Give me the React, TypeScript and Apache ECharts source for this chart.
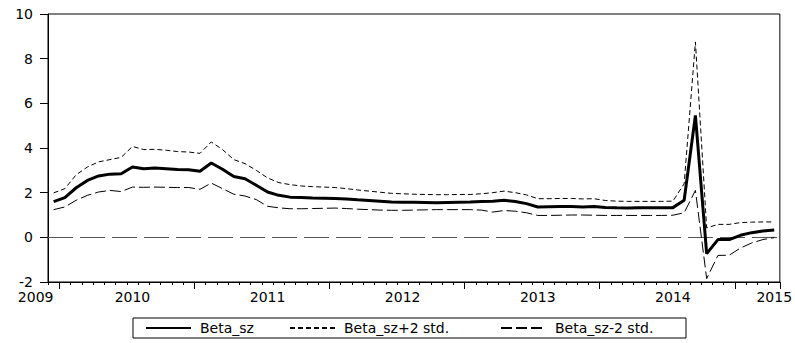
import React, { useEffect, useRef } from "react";
import * as echarts from "echarts";

// Monthly observations, Dec 2009 .. Apr 2015
const months: string[] = [
  "2009-12",
  "2010-01", "2010-02", "2010-03", "2010-04", "2010-05", "2010-06", "2010-07", "2010-08", "2010-09", "2010-10", "2010-11", "2010-12",
  "2011-01", "2011-02", "2011-03", "2011-04", "2011-05", "2011-06", "2011-07", "2011-08", "2011-09", "2011-10", "2011-11", "2011-12",
  "2012-01", "2012-02", "2012-03", "2012-04", "2012-05", "2012-06", "2012-07", "2012-08", "2012-09", "2012-10", "2012-11", "2012-12",
  "2013-01", "2013-02", "2013-03", "2013-04", "2013-05", "2013-06", "2013-07", "2013-08", "2013-09", "2013-10", "2013-11", "2013-12",
  "2014-01", "2014-02", "2014-03", "2014-04", "2014-05", "2014-06", "2014-07", "2014-08", "2014-09", "2014-10", "2014-11", "2014-12",
  "2015-01", "2015-02", "2015-03", "2015-04",
];

const betaSz: number[] = [
  1.60, 1.78, 2.22, 2.55, 2.75, 2.83, 2.85, 3.15, 3.07, 3.10, 3.07, 3.04, 3.03, 2.96, 3.33, 3.05, 2.72, 2.62, 2.33, 2.03,
  1.88, 1.80, 1.78, 1.76, 1.75, 1.74, 1.72, 1.68, 1.65, 1.62, 1.58, 1.57, 1.57, 1.56, 1.55,
  1.56, 1.57, 1.58, 1.60, 1.62, 1.66, 1.60, 1.51, 1.36, 1.37, 1.38, 1.38, 1.36, 1.38, 1.34,
  1.32, 1.31, 1.32, 1.32, 1.33, 1.33, 1.66, 5.46, -0.73, -0.10, -0.10, 0.09, 0.21, 0.28, 0.33,
];

const betaSzPlus2: number[] = [
  1.99, 2.18, 2.80, 3.15, 3.38, 3.48, 3.58, 4.07, 3.93, 3.94, 3.90, 3.84, 3.82, 3.76, 4.27, 3.93, 3.48, 3.30, 3.00, 2.66,
  2.45, 2.36, 2.30, 2.27, 2.25, 2.23, 2.18, 2.12, 2.07, 2.02, 1.97, 1.95, 1.93, 1.92, 1.91,
  1.91, 1.92, 1.92, 1.95, 2.00, 2.07, 2.00, 1.90, 1.73, 1.73, 1.74, 1.74, 1.72, 1.73, 1.65,
  1.62, 1.61, 1.61, 1.61, 1.61, 1.62, 2.40, 8.75, 0.42, 0.58, 0.58, 0.66, 0.68, 0.69, 0.69,
];

const betaSzMinus2: number[] = [
  1.24, 1.36, 1.66, 1.88, 2.03, 2.10, 2.05, 2.25, 2.24, 2.25, 2.24, 2.23, 2.23, 2.15, 2.43, 2.18, 1.93, 1.85, 1.69, 1.39,
  1.32, 1.28, 1.28, 1.29, 1.30, 1.31, 1.29, 1.26, 1.24, 1.22, 1.21, 1.21, 1.22, 1.23, 1.24,
  1.24, 1.24, 1.24, 1.22, 1.13, 1.20, 1.17, 1.10, 0.98, 0.98, 0.99, 1.00, 1.00, 0.99, 0.98,
  0.98, 0.98, 0.98, 0.98, 0.98, 0.99, 1.10, 2.10, -1.85, -0.81, -0.80, -0.48, -0.25, -0.10, -0.01,
];

const seriesNames = ["Beta_sz", "Beta_sz+2 std.", "Beta_sz-2 std."];
const yTicks = { min: -2, max: 10, interval: 2 };

const FONT = "DejaVu Sans";

export default function App() {
  const ref = useRef<HTMLDivElement>(null);
  useEffect(() => {
    const chart = echarts.init(ref.current!, null, { renderer: "svg" });
    const last = months.length - 1;
    const legendRichKey = ["a", "b", "c"];
    const richBase = {
      fontSize: 14,
      fontFamily: FONT,
      color: "#000",
      padding: [0, 0, 0, 4],
      backgroundColor: "rgba(255,255,255,0)",
    };
    chart.setOption({
      animation: false,
      grid: {
        left: 48,
        right: 10,
        top: 14,
        bottom: 61,
        show: true,
        borderColor: "#000",
        borderWidth: 1,
        backgroundColor: "transparent",
      },
      legend: {
        left: 133,
        top: 318,
        orient: "horizontal",
        itemWidth: 45,
        itemHeight: 14,
        itemGap: 10,
        padding: [3, 9, 3, 12],
        borderColor: "#000",
        borderWidth: 1,
        selectedMode: false,
        itemStyle: { opacity: 0 },
        data: seriesNames,
        formatter: (name: string) => {
          const k = legendRichKey[seriesNames.indexOf(name)];
          return "{" + k + "|" + name + "}";
        },
        textStyle: {
          fontSize: 14,
          fontFamily: FONT,
          color: "#000",
          rich: {
            a: { ...richBase, width: 79 },
            b: { ...richBase, width: 146 },
            c: { ...richBase, width: 122 },
          },
        },
      },
      xAxis: [
        {
          type: "category",
          data: months,
          boundaryGap: true,
          position: "bottom",
          axisLine: { show: true, onZero: false, lineStyle: { color: "#000", width: 1 } },
          axisTick: { show: true, interval: 0, length: 3, lineStyle: { color: "#000", width: 1 } },
          axisLabel: {
            interval: (i: number) => i === 0 || i === last || months[i].endsWith("-07"),
            formatter: (v: string, i: number) => (i === 0 ? "{s|" + v.slice(0, 4) + "}" : v.slice(0, 4)),
            margin: 8,
            color: "#000",
            fontSize: 14,
            fontFamily: FONT,
            rich: {
              s: { padding: [0, 36, 0, 0], color: "#000", fontSize: 14, fontFamily: FONT },
            },
          },
          splitLine: { show: false },
        },
        {
          type: "category",
          data: months,
          boundaryGap: true,
          position: "bottom",
          axisLine: { show: false, onZero: false },
          axisTick: {
            show: true,
            interval: (i: number) => months[i].endsWith("-01"),
            length: 7,
            lineStyle: { color: "#000", width: 1 },
          },
          axisLabel: { show: false },
          splitLine: { show: false },
        },
      ],
      yAxis: {
        type: "value",
        min: yTicks.min,
        max: yTicks.max,
        interval: yTicks.interval,
        axisLine: { show: true, lineStyle: { color: "#000", width: 1 } },
        axisTick: { show: true, length: 8, lineStyle: { color: "#000", width: 1 } },
        axisLabel: {
          margin: 15,
          color: "#000",
          fontSize: 14,
          fontFamily: FONT,
          padding: [0, 0, 4, 0],
        },
        splitLine: { show: false },
      },
      series: [
        {
          name: seriesNames[1],
          type: "line",
          data: betaSzPlus2,
          symbol: "none",
          lineStyle: { color: "#000", width: 1, type: [5, 3] },
          itemStyle: { color: "#000" },
          z: 3,
        },
        {
          name: seriesNames[2],
          type: "line",
          data: betaSzMinus2,
          symbol: "none",
          lineStyle: { color: "#000", width: 1, type: [11, 4] },
          itemStyle: { color: "#000" },
          z: 3,
        },
        {
          name: seriesNames[0],
          type: "line",
          data: betaSz,
          symbol: "none",
          lineStyle: { color: "#000", width: 3 },
          itemStyle: { color: "#000" },
          z: 4,
          markLine: {
            silent: true,
            symbol: ["none", "none"],
            label: { show: false },
            lineStyle: { color: "#555", width: 1.2, type: [25, 7] },
            data: [{ yAxis: 0 }],
            z: 2,
          },
        },
      ],
    });
    return () => chart.dispose();
  }, []);
  return (
    <div
      ref={ref}
      style={{ position: "absolute", left: 0, top: 0, width: 795, height: 343 }}
    />
  );
}
